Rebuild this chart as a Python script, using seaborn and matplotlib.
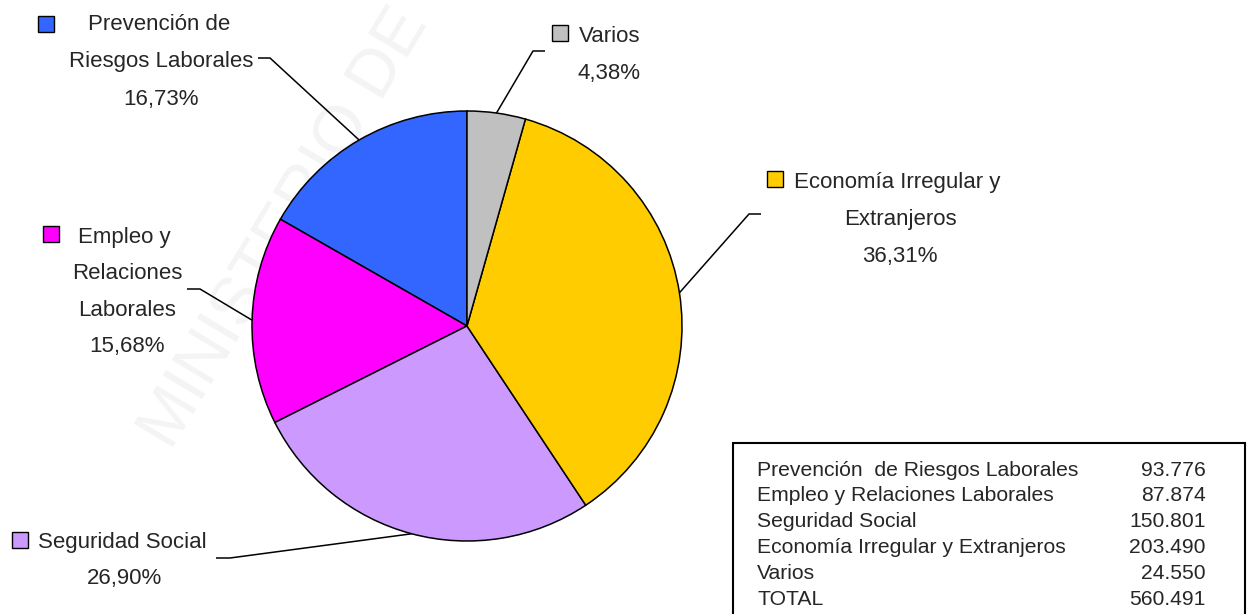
import numpy as np
import matplotlib
matplotlib.use("Agg")
import matplotlib.pyplot as plt
from matplotlib import font_manager
from matplotlib.patches import Rectangle
import seaborn as sns

# ---------------- data ----------------
categories = ["Prevención de Riesgos Laborales", "Empleo y Relaciones Laborales",
              "Seguridad Social", "Economía Irregular y Extranjeros", "Varios"]
values = [93776, 87874, 150801, 203490, 24550]
pct_labels = ["16,73%", "15,68%", "26,90%", "36,31%", "4,38%"]
label_lines = [["Prevención de", "Riesgos Laborales"],
               ["Empleo y", "Relaciones", "Laborales"],
               ["Seguridad Social"],
               ["Economía Irregular y", "Extranjeros"],
               ["Varios"]]
table_labels = ["Prevención  de Riesgos Laborales", "Empleo y Relaciones Laborales",
                "Seguridad Social", "Economía Irregular y Extranjeros", "Varios"]
total_label = "TOTAL"
colors = ["#3366FF", "#FF00FF", "#CC99FF", "#FFCC00", "#C0C0C0"]

# ---------------- style ----------------
sns.set_theme(style="white")
names = {f.name for f in font_manager.fontManager.ttflist}
if "Liberation Sans Narrow" in names:
    label_family = ["Liberation Sans Narrow", "DejaVu Sans"]
    label_size = 19.4
else:
    label_family = ["Liberation Sans", "DejaVu Sans"]
    label_size = 16
plt.rcParams["font.family"] = ["Liberation Sans", "DejaVu Sans"]

W, H = 1252, 614
fig = plt.figure(figsize=(W / 100, H / 100), dpi=100)
ax = fig.add_axes([0, 0, 1, 1])


def Y(py):
    return H - py


# watermark (faint)
ax.text(172, Y(452), "MINISTERIO DE", rotation=59, rotation_mode="anchor",
        ha="left", va="baseline", fontsize=48, color="#f4f4f4",
        family=["Liberation Sans", "DejaVu Sans"], zorder=0, clip_on=True)

cx, cy, R = 467, 326, 215
wedges, _ = ax.pie(values, colors=colors, startangle=90, counterclock=True,
                   center=(cx, Y(cy)), radius=R,
                   wedgeprops=dict(edgecolor="black", linewidth=1.1))
for w in wedges:
    w.set_zorder(2)

ax.set_xlim(0, W)
ax.set_ylim(0, H)
ax.set_aspect("equal")
ax.axis("off")

# layout (pixel coords)
layout = [
    dict(elbow=(270, 58), end=(258, 58), sq=(46, 24), x0=88, y0=22, xc=161, dy=37.5),
    dict(elbow=(200, 289), end=(187, 289), sq=(51, 234), x0=78, y0=235, xc=127, dy=36.3),
    dict(elbow=(230, 558), end=(216, 558), sq=(20, 540), x0=38, y0=540, xc=125, dy=36),
    dict(elbow=(749, 214), end=(761, 214), sq=(775, 179), x0=794, y0=180, xc=900, dy=36.8),
    dict(elbow=(533, 51), end=(545, 51), sq=(560, 33), x0=579, y0=34, xc=609, dy=37),
]

base_off = 0.36 * label_size * 100 / 72  # center -> baseline offset in px
sq = 16
for i, w in enumerate(wedges):
    L = layout[i]
    th = np.deg2rad((w.theta1 + w.theta2) / 2)
    ex, ey = cx + R * np.cos(th), Y(cy) + R * np.sin(th)
    ax.plot([ex, L["elbow"][0], L["end"][0]],
            [ey, Y(L["elbow"][1]), Y(L["end"][1])],
            color="black", lw=1.1, zorder=3, solid_capstyle="butt")
    sx, sy = L["sq"]
    ax.add_patch(Rectangle((sx - sq / 2, Y(sy) - sq / 2), sq, sq,
                           facecolor=colors[i], edgecolor="black", lw=1.0, zorder=3))
    lines = label_lines[i]
    ax.text(L["x0"], Y(L["y0"] + base_off), lines[0], ha="left", va="baseline",
            fontsize=label_size, family=label_family, zorder=4)
    yy = L["y0"]
    for ln in lines[1:] + [pct_labels[i]]:
        yy += L["dy"]
        ax.text(L["xc"], Y(yy + base_off), ln, ha="center", va="baseline",
                fontsize=label_size, family=label_family, zorder=4)

# table box
ax.add_patch(Rectangle((733, Y(616)), 1245 - 733, 616 - 443, facecolor="white",
                       edgecolor="black", lw=1.5, zorder=3))
rows = list(zip(table_labels, values)) + [(total_label, sum(values))]
tsize = 15.2
for k, (lab, v) in enumerate(rows):
    yc = 468 + k * 25.8
    yb = Y(yc + 0.36 * tsize * 100 / 72)
    ax.text(757, yb, lab, ha="left", va="baseline", fontsize=tsize, zorder=4)
    ax.text(1206, yb, f"{v:,}".replace(",", "."), ha="right", va="baseline",
            fontsize=tsize, zorder=4)

fig.savefig("out.png", dpi=100, facecolor="white")
